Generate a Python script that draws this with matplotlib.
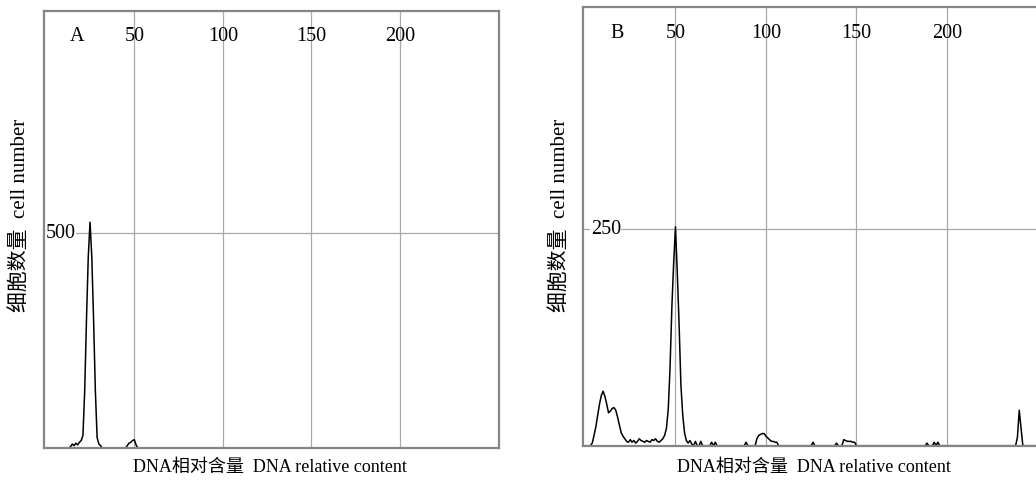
#!/usr/bin/env python3

import matplotlib
matplotlib.use("Agg")
import matplotlib.pyplot as plt
import matplotlib.transforms as mtransforms


# histogram data (channel -> cell count)

a_channels = [0, 13, 14, 15, 16, 17, 18, 19, 20, 21, 22, 23, 24, 25, 26, 27, 28, 29,
              30, 31, 32, 45, 46, 47, 48, 49, 50, 51, 52, 255]
a_counts = [0, 0, 4, 10, 6, 12, 8, 14, 18, 30, 135, 300, 445, 526, 445, 300, 135, 25,
            10, 6, 0, 0, 6, 12, 14, 18, 20, 8, 0, 0]

b_channels = [0, 3, 4, 5, 6, 7, 8, 9, 10, 11, 12, 13, 14, 15, 16, 17, 18, 19, 20,
              21, 22, 23, 24, 25, 26, 27, 28, 29, 30, 31, 32, 33, 34, 35, 36, 37, 38,
              39, 40, 41, 42, 43, 44, 45, 46, 47, 48, 49, 50, 51, 52, 53, 54, 55, 56,
              57, 58, 59, 60, 61, 62, 63, 64, 65, 69, 70, 71, 72, 73, 88, 89, 90,
              94, 95, 96, 97, 98, 99, 100, 101, 102, 103, 104, 105, 106, 107,
              125, 126, 127, 138, 139, 140, 142, 143, 144, 145, 146, 147, 148, 149, 150,
              188, 189, 190, 192, 193, 194, 195, 196, 238, 239, 240, 241, 242, 255]
b_counts = [0, 0, 3, 12, 22, 35, 48, 58, 63, 57, 48, 38, 40, 43, 44, 41, 33, 24, 15,
            11, 8, 5, 4, 7, 4, 6, 3, 5, 8, 6, 5, 4, 6, 5, 4, 7, 6,
            8, 5, 4, 6, 8, 12, 20, 42, 90, 160, 211, 253, 200, 140, 70, 36, 15, 6,
            3, 6, 2, 0, 5, 0, 0, 5, 0, 0, 4, 0, 4, 0, 0, 4, 0,
            0, 8, 12, 13, 14, 14, 11, 9, 7, 5, 5, 4, 4, 0,
            0, 4, 0, 0, 3, 0, 0, 7, 6, 5, 5, 5, 4, 4, 0,
            0, 3, 0, 0, 4, 0, 4, 0, 0, 10, 41, 20, 0, 0]

x_ticks = [50, 100, 150, 200]
a_ytick = 500
b_ytick = 250
a_ymax = 1018
b_ymax = 507

xlabel = "DNA相对含量  DNA relative content"
ylabel = "细胞数量  cell number"

fonts = ["Liberation Serif", "Noto Sans CJK SC"]
frame_color = "#858585"
grid_color = "#a8a8a8"

W, H = 1036, 480
fig = plt.figure(figsize=(W / 100, H / 100), dpi=100)

# axes rectangles placed in pixels
ax_a = fig.add_axes([44 / W, (H - 448.3) / H, 455 / W, 437.6 / H])
ax_b = fig.add_axes([583.2 / W, (H - 445.7) / H, 465 / W, 438.7 / H])

panels = [
	(ax_a, a_channels, a_counts, a_ytick, a_ymax, "A", 0.0),
	(ax_b, b_channels, b_counts, b_ytick, b_ymax, "B", 0.012),
]

for ax, ch, cnt, ytick, ymax, letter, yoff in panels:
	ax.plot(ch, cnt, color="black", lw=1.1, zorder=2)
	ax.set_xlim(-1, 256)
	ax.set_ylim(0, ymax)
	ax.set_xticks(x_ticks)
	ax.set_yticks([ytick])
	ax.grid(True, color=grid_color, lw=0.9)
	ax.set_axisbelow(True)
	ax.tick_params(length=0, labelbottom=False, labelleft=False)
	for sp in ax.spines.values():
		sp.set_color(frame_color)
		sp.set_linewidth(1.6)
		sp.set_zorder(3)

	trans = mtransforms.blended_transform_factory(ax.transData, ax.transAxes)
	for t in x_ticks:
		ax.text(t, 0.94, str(t), transform=trans, ha="center", va="center",
			fontsize=14.5, family=fonts)
	ax.text(0.073, 0.94, letter, transform=ax.transAxes, ha="center", va="center",
		fontsize=14.5, family=fonts)

	ytrans = mtransforms.blended_transform_factory(ax.transAxes, ax.transData)
	ax.text(0.004 + yoff, ytick, str(ytick), transform=ytrans, ha="left", va="center",
		fontsize=14.5, family=fonts,
		bbox=dict(facecolor="white", edgecolor="none", pad=0.3))

fig.text(20 / W, 1 - 215 / H, ylabel, rotation=90, ha="center", va="center",
	fontsize=15, family=fonts)
fig.text(560 / W, 1 - 215 / H, ylabel, rotation=90, ha="center", va="center",
	fontsize=15, family=fonts)
fig.text(270 / W, 1 - 467 / H, xlabel, ha="center", va="center",
	fontsize=13, family=fonts)
fig.text(814 / W, 1 - 467 / H, xlabel, ha="center", va="center",
	fontsize=13, family=fonts)

fig.savefig("out.png", dpi=100, facecolor="white")
